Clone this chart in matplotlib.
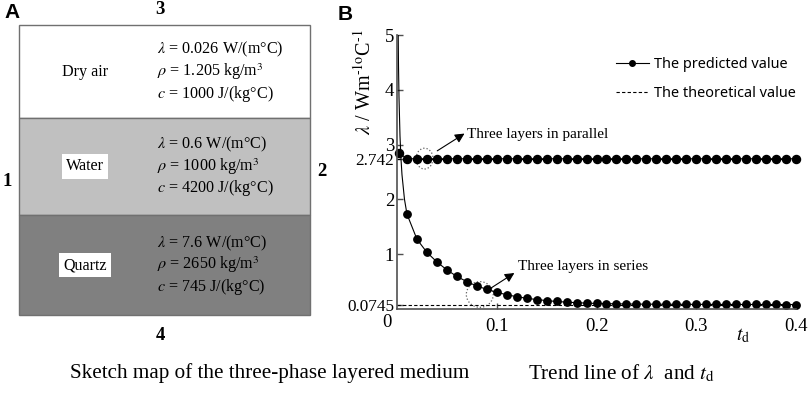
import matplotlib
matplotlib.use("Agg")
import matplotlib.pyplot as plt
from matplotlib.patches import Rectangle, Ellipse
from matplotlib.lines import Line2D

plt.rcParams['mathtext.fontset'] = 'stix'
plt.rcParams['font.family'] = ['Liberation Serif', 'DejaVu Serif']

# ---------------- data ----------------
layer_names = ["Dry air", "Water", "Quartz"]
layer_lambda = ["0.026", "0.6", "7.6"]
layer_rho = ["1.205", "1000", "2650"]
layer_c = ["1000", "4200", "745"]
layer_colors = ["#ffffff", "#c0c0c0", "#808080"]

# series (three layers in series) - markers every 0.01
t_marks = [round(0.01 * i, 2) for i in range(1, 41)]
series_marks = [1.73, 1.27, 1.03, 0.855, 0.71, 0.59, 0.495, 0.415, 0.355, 0.30,
                0.255, 0.22, 0.19, 0.168, 0.148, 0.132, 0.12, 0.11, 0.102, 0.096,
                0.092, 0.089, 0.086, 0.084, 0.083, 0.082, 0.081, 0.080, 0.080, 0.079,
                0.079, 0.078, 0.078, 0.078, 0.077, 0.077, 0.077, 0.077, 0.076, 0.076]
# early-time part of the series curve (line only)
t_early = [0.001, 0.0015, 0.002, 0.003, 0.004, 0.005, 0.0075]
series_early = [5.4, 4.45, 3.87, 3.16, 2.74, 2.45, 2.0]

# parallel
t_par_early = [0.002]
par_early = [2.85]
parallel_marks = [2.742] * 40

theory_series = 0.0745
theory_parallel = 2.742

yticks = [1, 2, 3, 4, 5]
xticks = [0.1, 0.2, 0.3, 0.4]

# ---------------- figure ----------------
W, H = 809, 393
fig = plt.figure(figsize=(W / 100, H / 100), dpi=100)

# overlay axes in pixel coordinates for panel A and captions
axA = fig.add_axes([0, 0, 1, 1])
axA.set_xlim(0, W)
axA.set_ylim(H, 0)
axA.axis('off')

x0, x1 = 19, 310
bounds = [25, 118, 215, 315]
for i in range(3):
    axA.add_patch(Rectangle((x0, bounds[i]), x1 - x0, bounds[i + 1] - bounds[i],
                            facecolor=layer_colors[i], edgecolor='#707070', lw=1.0))

fs_in = 11.6
for i in range(3):
    ytop, ybot = bounds[i], bounds[i + 1]
    yc = (ytop + ybot) / 2
    name_kw = dict(ha='center', va='center', fontsize=fs_in, color='black')
    if i > 0:
        name_kw['bbox'] = dict(facecolor='white', edgecolor='none', pad=3)
    axA.text(85, yc, layer_names[i], **name_kw)
    lines = [r'$\lambda$ = ' + layer_lambda[i] + ' W/(m°C)',
             r'$\rho$ = ' + layer_rho[i] + r' kg/m$^3$',
             r'$c$ = ' + layer_c[i] + ' J/(kg°C)']
    for k, s in enumerate(lines):
        axA.text(157, yc - 22 + 22 * k, s, ha='left', va='center', fontsize=fs_in)

bold_kw = dict(fontsize=13.5, fontweight='bold', ha='center', va='center')
axA.text(160, 10, "3", **bold_kw)
axA.text(7, 182, "1", **bold_kw)
axA.text(322, 171, "2", **bold_kw)
axA.text(160, 336, "4", **bold_kw)
axA.text(12, 13, "A", fontsize=15, fontweight='bold', ha='center', va='center',
         family='Liberation Sans')
axA.text(345, 14, "B", fontsize=15, fontweight='bold', ha='center', va='center',
         family='Liberation Sans')

axA.text(270, 373, "Sketch map of the three-phase layered medium", fontsize=15.2,
         ha='center', va='center')
axA.text(528, 373, r"Trend line of $\lambda$  and $t_{\mathrm{d}}$", fontsize=15.2,
         ha='left', va='center')

# ---------------- panel B ----------------
left, right = 397, 796
bottom_px, top_px = 308.7, 35.3
axB = fig.add_axes([left / W, (H - bottom_px) / H, (right - left) / W,
                    (bottom_px - top_px) / H])
axB.patch.set_alpha(0)
axB.set_xlim(0, 0.4)
axB.set_ylim(0, 5)
for s in ['top', 'right']:
    axB.spines[s].set_visible(False)
for s in ['left', 'bottom']:
    axB.spines[s].set_color('#505050')
    axB.spines[s].set_linewidth(1.2)

# theoretical dashed lines
axB.plot([0, 0.4], [theory_series, theory_series], ls=(0, (3, 2)), color='black', lw=0.8)
axB.plot([0, 0.4], [theory_parallel, theory_parallel], ls=(0, (3, 2)), color='black', lw=0.8)

# series predicted
axB.plot(t_early + t_marks, series_early + series_marks, color='black', lw=0.8)
axB.plot(t_marks, series_marks, ls='none', marker='o', ms=5.3, color='black', clip_on=False)
# parallel predicted
axB.plot(t_par_early + t_marks, par_early + parallel_marks, color='black', lw=0.8)
axB.plot(t_par_early + t_marks, par_early + parallel_marks, ls='none', marker='o',
         ms=5.8, color='black', clip_on=False)

axB.set_xticks(xticks)
axB.set_xticklabels([f"{v:.1f}" for v in xticks])
axB.set_yticks(yticks + [theory_series, theory_parallel])
axB.set_yticklabels([str(v) for v in yticks] + ["0.0745", "2.742"])
axB.tick_params(axis='both', direction='in', length=4, width=1, color='#505050')
axB.tick_params(axis='y', pad=2, labelsize=13.5)
axB.tick_params(axis='x', pad=7, labelsize=13.5)
for lab in axB.get_yticklabels():
    if lab.get_text() in ("0.0745", "2.742"):
        lab.set_fontsize(12.3)

axB.text(-0.01, -0.25, "0", fontsize=13.5, ha='center', va='center')
axB.text(0.868, -0.1, r"$t_{\mathrm{d}}$", transform=axB.transAxes, fontsize=14,
         ha='center', va='center')
axB.set_ylabel(r"$\lambda$ / Wm$^{\text{-1}\text{o}}$C$^{\text{-1}}$",
               fontsize=14.5, labelpad=4)
axB.yaxis.set_label_coords(-0.055, 0.83)

# circles
axB.add_patch(Ellipse((0.0276, 2.745), 0.017, 0.38, fill=False, ls=':', color='#606060', lw=0.9))
axB.add_patch(Ellipse((0.083, 0.26), 0.027, 0.47, fill=False, ls=':', color='#606060', lw=0.9))

arrow = dict(arrowstyle='-|>', color='black', lw=0.8, mutation_scale=14)
axB.annotate("", xy=(0.070, 3.23), xytext=(0.038, 2.86), arrowprops=arrow)
axB.text(0.0705, 3.18, "Three layers in parallel", fontsize=11, ha='left', va='center')
axB.annotate("", xy=(0.12, 0.68), xytext=(0.091, 0.34), arrowprops=arrow)
axB.text(0.121, 0.78, "Three layers in series", fontsize=11, ha='left', va='center')

# legend
handles = [Line2D([], [], color='black', lw=0.8, marker='o', ms=4),
           Line2D([], [], color='black', lw=0.8, ls=(0, (3, 2)))]
leg = axB.legend(handles, ["The predicted value", "The theoretical value"],
                 loc='upper right', bbox_to_anchor=(1.015, 0.94), frameon=False,
                 prop={'family': 'Noto Sans', 'size': 10.4}, handlelength=2.3,
                 handletextpad=0.37, labelspacing=0.95, borderaxespad=0)

fig.savefig("out.png", dpi=100)
